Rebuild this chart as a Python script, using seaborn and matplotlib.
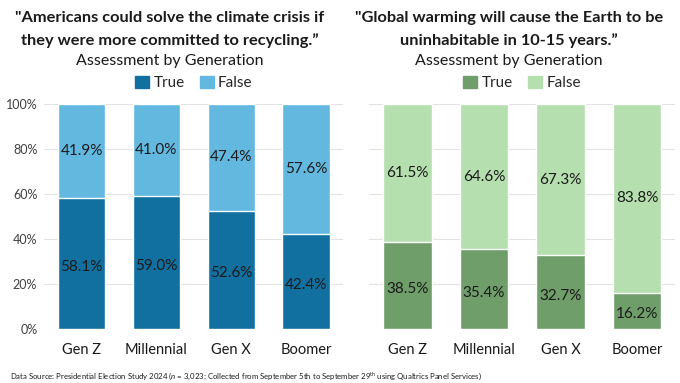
import matplotlib
matplotlib.use("Agg")
import matplotlib.pyplot as plt
import seaborn as sns
import pandas as pd
from matplotlib.patches import Patch

sns.set_theme(style="white")
plt.rcParams["font.family"] = ["Lato", "DejaVu Sans"]
plt.rcParams["mathtext.fontset"] = "custom"
plt.rcParams["mathtext.rm"] = "Lato"
plt.rcParams["mathtext.it"] = "Lato:italic"

generations = ["Gen Z", "Millennial", "Gen X", "Boomer"]
recycle_true = [58.1, 59.0, 52.6, 42.4]
recycle_false = [41.9, 41.0, 47.4, 57.6]
warming_true = [38.5, 35.4, 32.7, 16.2]
warming_false = [61.5, 64.6, 67.3, 83.8]
yticks = [0, 20, 40, 60, 80, 100]

fig = plt.figure(figsize=(6.8, 3.83), dpi=100)
ax1 = fig.add_axes([0.065, 0.141, 0.44, 0.587])
ax2 = fig.add_axes([0.543, 0.141, 0.45, 0.587])


def panel(ax, t, f, c_true, c_false, show_y):
    df = pd.DataFrame({"gen": generations, "true": t, "false": f})
    df["total"] = df["true"] + df["false"]
    sns.barplot(data=df, x="gen", y="total", color=c_false, width=0.63,
                saturation=1, ax=ax, zorder=2)
    sns.barplot(data=df, x="gen", y="true", color=c_true, width=0.63,
                saturation=1, ax=ax, zorder=3)
    for i, row in df.iterrows():
        ax.text(i, row["true"] / 2 - 1.5, f"{row['true']:.1f}%", ha="center",
                va="center", fontsize=11, color="#1a1a1a", zorder=4)
        ax.text(i, row["true"] + row["false"] / 2, f"{row['false']:.1f}%",
                ha="center", va="center", fontsize=11, color="#1a1a1a", zorder=4)
    ax.set_ylim(0, 100)
    ax.set_xlim(-0.5, 3.5)
    ax.set_yticks(yticks)
    ax.yaxis.grid(True, color="#e3e3e3", linewidth=0.8, zorder=0)
    ax.set_axisbelow(True)
    if show_y:
        ax.set_yticklabels([f"{v}%" for v in yticks], fontsize=9, color="#404040")
    else:
        ax.set_yticklabels([])
    ax.tick_params(axis="y", length=0, pad=5)
    ax.tick_params(axis="x", length=0, pad=10, labelsize=10.5, labelcolor="#1a1a1a")
    ax.set_xlabel("")
    ax.set_ylabel("")
    for s in ax.spines.values():
        s.set_visible(False)
    ax.legend(handles=[Patch(color=c_true, label="True"), Patch(color=c_false, label="False")],
              loc="lower center", bbox_to_anchor=(0.5, 1.0), ncol=2, frameon=False,
              fontsize=11, handlelength=0.9, handleheight=0.9, handletextpad=0.3,
              columnspacing=1.0)


panel(ax1, recycle_true, recycle_false, "#1170A0", "#63B8E0", True)
panel(ax2, warming_true, warming_false, "#6F9E6A", "#B5DFAE", False)

fig.text(0.25, 0.952, "\"Americans could solve the climate crisis if",
         ha="center", va="center", fontsize=11.8, fontweight="bold", color="#1a1a1a")
fig.text(0.25, 0.895, "they were more committed to recycling.\u201d",
         ha="center", va="center", fontsize=11.8, fontweight="bold", color="#1a1a1a")
fig.text(0.25, 0.842, "Assessment by Generation",
         ha="center", va="center", fontsize=11.5, color="#1a1a1a")
fig.text(0.748, 0.952, "\"Global warming will cause the Earth to be",
         ha="center", va="center", fontsize=11.8, fontweight="bold", color="#1a1a1a")
fig.text(0.748, 0.895, "uninhabitable in 10-15 years.\u201d",
         ha="center", va="center", fontsize=11.8, fontweight="bold", color="#1a1a1a")
fig.text(0.748, 0.842, "Assessment by Generation",
         ha="center", va="center", fontsize=11.5, color="#1a1a1a")

fig.text(0.015, 0.018,
         r"Data Source: Presidential Election Study 2024 ($\it{n}$ = 3,023; Collected from September 5th to September 29$^{\rm th}$ using Qualtrics Panel Services)",
         ha="left", va="center", fontsize=5.6, color="#1a1a1a")

fig.savefig("out.png", dpi=100)
